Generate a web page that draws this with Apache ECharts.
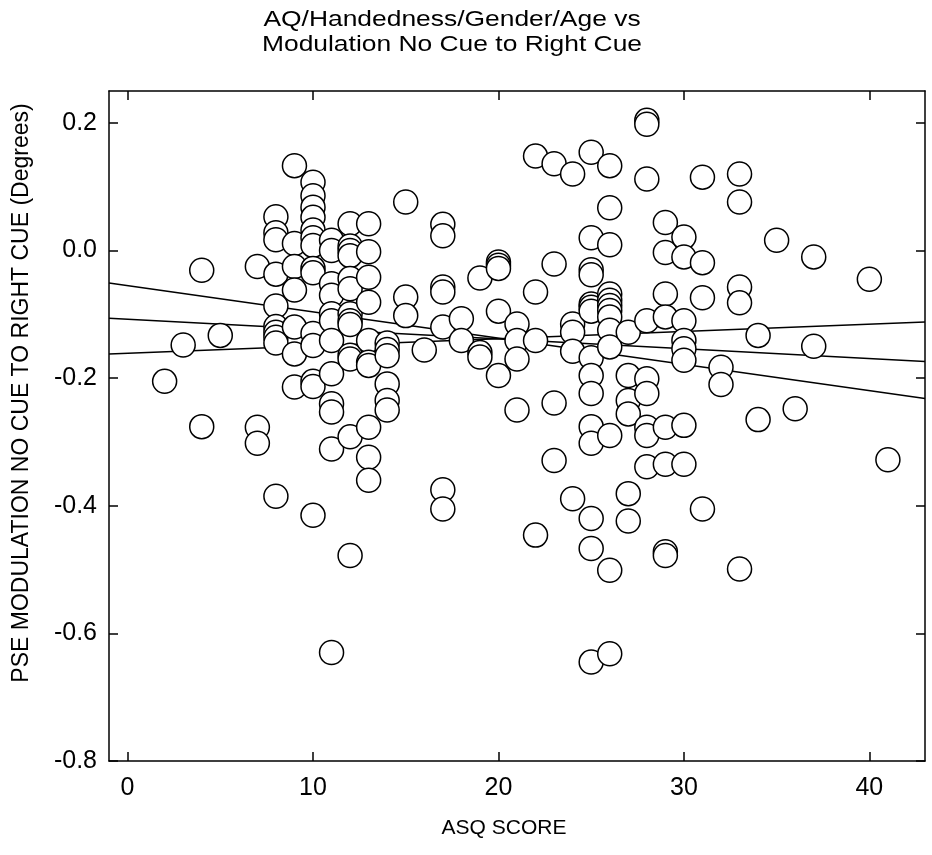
<!DOCTYPE html>
<html><head><meta charset="utf-8">
<script src="https://cdn.jsdelivr.net/npm/echarts@6/dist/echarts.min.js"></script>
<style>html,body{margin:0;padding:0;background:#fff}#c{width:932px;height:855px}</style>
</head><body><div id="c"></div><script>
const titleLines = ['AQ/Handedness/Gender/Age vs', 'Modulation No Cue to Right Cue'];
const xAxisTitle = 'ASQ SCORE';
const yAxisTitle = 'PSE MODULATION NO CUE TO RIGHT CUE (Degrees)';
const xTicks = [0, 10, 20, 30, 40];
const yTicks = [-0.8, -0.6, -0.4, -0.2, 0.0, 0.2];

// [ASQ score, PSE modulation]
const points = [
  [2,-0.205],[3,-0.148],[4,-0.031],[4,-0.276],[5,-0.133],
  [7,-0.025],[7,-0.277],[7,-0.302],
  [8,0.053],[8,0.028],[8,0.017],[8,-0.037],[8,-0.087],[8,-0.119],[8,-0.128],[8,-0.136],[8,-0.145],[8,-0.385],
  [9,0.133],[9,0.011],[9,-0.025],[9,-0.062],[9,-0.12],[9,-0.162],[9,-0.214],
  [10,0.107],[10,0.086],[10,0.068],[10,0.052],[10,0.032],[10,0.02],[10,0.008],[10,-0.028],[10,-0.035],[10,-0.13],[10,-0.149],[10,-0.205],[10,-0.213],[10,-0.415],
  [11,0.016],[11,0.0],[11,-0.052],[11,-0.07],[11,-0.099],[11,-0.11],[11,-0.141],[11,-0.193],[11,-0.24],[11,-0.253],[11,-0.311],[11,-0.63],
  [12,0.042],[12,0.007],[12,0.0],[12,-0.008],[12,-0.044],[12,-0.06],[12,-0.099],[12,-0.11],[12,-0.116],[12,-0.164],[12,-0.17],[12,-0.292],[12,-0.478],
  [13,0.042],[13,-0.002],[13,-0.042],[13,-0.081],[13,-0.141],[13,-0.175],[13,-0.18],[13,-0.277],[13,-0.324],[13,-0.36],
  [14,-0.145],[14,-0.155],[14,-0.165],[14,-0.209],[14,-0.235],[14,-0.25],
  [15,0.076],[15,-0.073],[15,-0.102],
  [16,-0.156],
  [17,0.041],[17,0.023],[17,-0.057],[17,-0.065],[17,-0.12],[17,-0.375],[17,-0.405],
  [18,-0.107],[18,-0.141],
  [19,-0.043],[19,-0.16],[19,-0.167],
  [20,-0.018],[20,-0.023],[20,-0.028],[20,-0.095],[20,-0.196],
  [21,-0.115],[21,-0.141],[21,-0.17],[21,-0.25],
  [22,0.148],[22,-0.065],[22,-0.141],[22,-0.446],
  [23,0.136],[23,-0.021],[23,-0.239],[23,-0.329],
  [24,0.12],[24,-0.115],[24,-0.128],[24,-0.158],[24,-0.389],
  [25,0.154],[25,0.02],[25,-0.03],[25,-0.038],[25,-0.084],[25,-0.089],[25,-0.095],[25,-0.168],[25,-0.196],[25,-0.224],[25,-0.276],[25,-0.302],[25,-0.42],[25,-0.467],[25,-0.645],
  [26,0.133],[26,0.067],[26,0.009],[26,-0.068],[26,-0.078],[26,-0.086],[26,-0.094],[26,-0.104],[26,-0.125],[26,-0.151],[26,-0.29],[26,-0.501],[26,-0.632],
  [27,-0.128],[27,-0.196],[27,-0.235],[27,-0.256],[27,-0.381],[27,-0.424],
  [28,0.204],[28,0.198],[28,0.112],[28,-0.11],[28,-0.201],[28,-0.224],[28,-0.277],[28,-0.29],[28,-0.339],
  [29,0.044],[29,-0.003],[29,-0.068],[29,-0.104],[29,-0.277],[29,-0.335],[29,-0.472],[29,-0.478],
  [30,0.021],[30,-0.01],[30,-0.11],[30,-0.141],[30,-0.154],[30,-0.172],[30,-0.274],[30,-0.335],
  [31,0.115],[31,-0.019],[31,-0.074],[31,-0.405],
  [32,-0.183],[32,-0.21],
  [33,0.12],[33,0.076],[33,-0.057],[33,-0.082],[33,-0.499],
  [34,-0.133],[34,-0.265],
  [35,0.016],[36,-0.248],[37,-0.01],[37,-0.15],[40,-0.045],[41,-0.328]
];

// regression line and confidence limits, endpoints at axis ends
const upperLimit = [[-1,-0.051],[43,-0.232]];
const regression = [[-1,-0.106],[43,-0.174]];
const lowerLimit = [[-1,-0.162],[43,-0.112]];

const FONT = 'Liberation Sans, Arial, sans-serif';
const chart = echarts.init(document.getElementById('c'), null, {renderer:'canvas'});

function axisCommon(extra){
  return Object.assign({
    axisLine:{show:true, onZero:false, lineStyle:{color:'#000', width:1.5}},
    splitLine:{show:false}
  }, extra);
}

const lineStyle = {color:'#000', width:1.5};
function lineSeries(d){
  return {type:'line', data:d, symbol:'none', lineStyle:lineStyle, silent:true, z:1, clip:true};
}

function txt(text, x, y, size, extra){
  return Object.assign({type:'text', x:x, y:y,
    style:{text:text, font:size + 'px ' + FONT, fill:'#000', textAlign:'center', textVerticalAlign:'middle'}}, extra || {});
}

chart.setOption({
  animation:false,
  backgroundColor:'#fff',
  grid:{left:109, top:91, width:816, height:670, containLabel:false},
  graphic:[
    txt(titleLines[0], 452, 20, 22, {scaleX:1.2}),
    txt(titleLines[1], 452, 45, 22, {scaleX:1.2}),
    txt(yAxisTitle, 22, 393, 23, {rotation:Math.PI/2}),
    txt(xAxisTitle, 504, 828, 21)
  ],
  xAxis:[
    axisCommon({type:'value', position:'bottom', min:-1, max:43,
      axisTick:{show:true, inside:true, length:9, customValues:xTicks, lineStyle:{color:'#000', width:1.5}},
      axisLabel:{show:true, customValues:xTicks, margin:15, fontSize:25, fontFamily:FONT, color:'#000'}}),
    axisCommon({type:'value', position:'top', min:-1, max:43,
      axisTick:{show:true, inside:true, length:9, customValues:xTicks, lineStyle:{color:'#000', width:1.5}},
      axisLabel:{show:false}})
  ],
  yAxis:[
    axisCommon({type:'value', position:'left', min:-0.8, max:0.25,
      axisTick:{show:true, inside:true, length:9, customValues:yTicks, lineStyle:{color:'#000', width:1.5}},
      axisLabel:{show:true, customValues:yTicks, margin:12, fontSize:25, fontFamily:FONT, color:'#000',
        formatter:function(v){return v.toFixed(1);}}}),
    axisCommon({type:'value', position:'right', min:-0.8, max:0.25,
      axisTick:{show:true, inside:true, length:9, customValues:yTicks, lineStyle:{color:'#000', width:1.5}},
      axisLabel:{show:false}})
  ],
  series:[
    lineSeries(upperLimit),
    lineSeries(regression),
    lineSeries(lowerLimit),
    {type:'scatter', data:points, symbol:'circle', symbolSize:24, z:3,
      itemStyle:{color:'#fff', borderColor:'#000', borderWidth:1.5, opacity:1}}
  ]
});
</script></body></html>
